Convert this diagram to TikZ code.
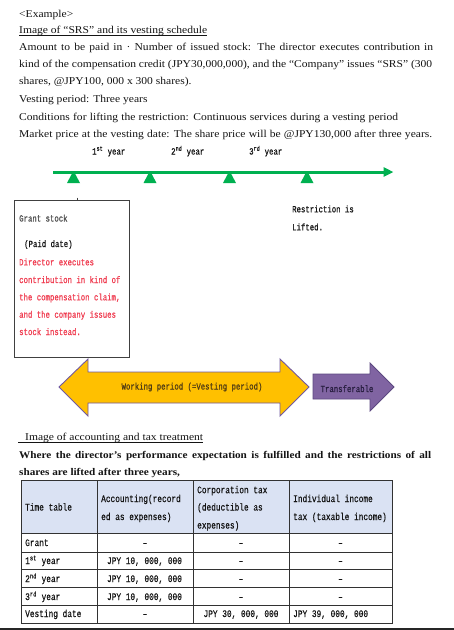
\documentclass[tikz,border=0pt]{standalone}
\usepackage{fontspec}
\setmainfont{Liberation Serif}[FakeStretch=1.1]
\newfontfamily\monof{Liberation Mono}[FakeStretch=0.78, FakeBold=0.6]
\usetikzlibrary{arrows.meta}
\definecolor{tlgreen}{RGB}{0,176,80}
\definecolor{boxred}{RGB}{240,60,80}
\definecolor{goldfill}{RGB}{255,192,0}
\definecolor{arrowline}{RGB}{112,88,160}
\definecolor{purpfill}{RGB}{128,100,162}
\definecolor{purpline}{RGB}{92,72,128}
\definecolor{hdrfill}{RGB}{218,226,243}
\definecolor{gridline}{RGB}{50,50,50}
\definecolor{txt}{RGB}{20,20,20}
\tikzset{
  body/.style={anchor=base west, inner sep=0pt, text=txt, font=\fontsize{10.5}{12}\selectfont},
  boldbody/.style={anchor=base west, inner sep=0pt, text=txt, font=\fontsize{10.2}{12}\selectfont\bfseries},
  mono/.style={anchor=base west, inner sep=0pt, text=txt, font=\monof\fontsize{9.4}{11}\selectfont},
  monoc/.style={anchor=base, inner sep=0pt, text=txt, font=\monof\fontsize{9.4}{11}\selectfont},
  tmono/.style={anchor=base west, inner sep=0pt, text=txt, font=\monof\fontsize{10}{12}\selectfont},
  tmonoc/.style={anchor=base, inner sep=0pt, text=txt, font=\monof\fontsize{10}{12}\selectfont},
  uline/.style={line width=0.5pt, txt},
  grid/.style={gridline, line width=0.8pt},
  tri/.style={fill=tlgreen},
}
\begin{document}
\begin{tikzpicture}[x=1pt, y=-1pt]
\useasboundingbox (0,0) rectangle (454,630);
\fill[white] (0,0) rectangle (454,630);

% --- top paragraph
\node[body] (l1) at (19,17) {<Example>};
\node[body] (l2) at (19,33) {Image of ``SRS'' and its vesting schedule};
\draw[uline] ([yshift=-1.8pt]l2.base west) -- ([yshift=-1.8pt]l2.base east);
\node[body] (l3) at (19,50.2) {\makebox[414pt][s]{Amount to be paid in · Number of issued stock: The director executes contribution in}};
\node[body] (l4) at (19,67.5) {\makebox[413pt][s]{kind of the compensation credit (JPY30,000,000), and the ``Company'' issues ``SRS'' (300}};
\node[body] (l5) at (19,84.8) {shares, @JPY100, 000 x 300 shares).};
\node[body] (l6) at (19,102.2) {Vesting period: Three years};
\node[body] (l7) at (19,120.2) {\makebox[379pt][s]{Conditions for lifting the restriction: Continuous services during a vesting period}};
\node[body] (l8) at (19,137.5) {\makebox[413pt][s]{Market price at the vesting date: The share price will be @JPY130,000 after three years.}};

% --- timeline
\node[mono] (y1) at (92,154.5) {1\textsuperscript{st} year};
\node[mono] (y2) at (171,154.5) {2\textsuperscript{nd} year};
\node[mono] (y3) at (249,154.5) {3\textsuperscript{rd} year};
\coordinate (tl0) at (53,172);
\coordinate (tl1) at (393.5,172);
\draw[tlgreen, line width=3pt, -{Triangle[length=10pt,width=9pt]}] (tl0) -- (tl1);
\foreach \x in {73.5,150,229.5,307}{
  \fill[tri] (\x-1.2,173) -- (\x+1.2,173) -- (\x+6.5,183) -- (\x-6.5,183) -- cycle;
}

% --- grant box
\node[draw=black!75, line width=0.7pt, minimum width=115pt, minimum height=157pt, inner sep=0pt] (gbox) at (71.5,278.5) {};
\draw[black!75, line width=0.6pt] (77,197.5) -- (77,200);
\node[mono, text=black!70] (g1) at (19,221.5) {Grant stock};
\node[mono] (g2) at (24,247) {(Paid date)};
\node[mono, text=boxred] (g3) at (19,265.3) {Director executes};
\node[mono, text=boxred] (g4) at (19,283) {contribution in kind of};
\node[mono, text=boxred] (g5) at (19,300.3) {the compensation claim,};
\node[mono, text=boxred] (g6) at (19,317.7) {and the company issues};
\node[mono, text=boxred] (g7) at (19,335) {stock instead.};

\node[mono] (r1) at (292,212.3) {Restriction is};
\node[mono] (r2) at (292,230.3) {Lifted.};

% --- arrows
\draw[fill=goldfill, draw=arrowline, line width=0.9pt]
  (59,387) -- (88,359) -- (88,372) -- (280,372) -- (280,359) -- (309,387)
  -- (280,416) -- (280,403) -- (88,403) -- (88,416) -- cycle;
\node[monoc, text={rgb,255:red,80;green,60;blue,20}] (wp) at (192,389.5) {Working period (=Vesting period)};
\draw[fill=purpfill, draw=purpline, line width=0.8pt]
  (313,374) -- (370,374) -- (370,363) -- (394,387) -- (370,411) -- (370,399) -- (313,399) -- cycle;
\node[monoc, text={rgb,255:red,40;green,30;blue,64}] (tf) at (347,392) {Transferable};

% --- second section
\node[body] (s1) at (25,440.5) {Image of accounting and tax treatment};
\coordinate (u0) at (18,442.3);
\draw[uline] (u0) -- ([yshift=-1.8pt]s1.base east);
\node[boldbody] (s2) at (19,458.5) {\makebox[412pt][s]{Where the director's performance expectation is fulfilled and the restrictions of all}};
\node[boldbody] (s3) at (19,475.5) {shares are lifted after three years,};

% --- table
\fill[hdrfill] (21,480) rectangle (392,533);
\draw[grid] (21,480) rectangle (392,623);
\foreach \x in {97,193,289}{ \draw[grid] (\x,480) -- (\x,623); }
\foreach \y in {533,552,569,587,605}{ \draw[grid] (21,\y) -- (392,\y); }

\node[tmono] (h1) at (25,510.5) {Time table};
\node[tmono] (h2a) at (101,502) {Accounting(record};
\node[tmono] (h2b) at (101,520) {ed as expenses)};
\node[tmono] (h3a) at (197,493.2) {Corporation tax};
\node[tmono] (h3b) at (197,510.5) {(deductible as};
\node[tmono] (h3c) at (197,528.5) {expenses)};
\node[tmono] (h4a) at (293,502) {Individual income};
\node[tmono] (h4b) at (293,520) {tax (taxable income)};

\node[tmono] (a1) at (25,546) {Grant};
\node[tmonoc] (a2) at (145,546) {–};
\node[tmonoc] (a3) at (241,546) {–};
\node[tmonoc] (a4) at (340.5,546) {–};

\node[tmono] (b1) at (25,564) {1\textsuperscript{st} year};
\node[tmonoc] (b2) at (144.5,564) {JPY 10, 000, 000};
\node[tmonoc] (b3) at (241,564) {–};
\node[tmonoc] (b4) at (340.5,564) {–};

\node[tmono] (c1) at (25,582) {2\textsuperscript{nd} year};
\node[tmonoc] (c2) at (144.5,582) {JPY 10, 000, 000};
\node[tmonoc] (c3) at (241,582) {–};
\node[tmonoc] (c4) at (340.5,582) {–};

\node[tmono] (d1) at (25,600) {3\textsuperscript{rd} year};
\node[tmonoc] (d2) at (144.5,600) {JPY 10, 000, 000};
\node[tmonoc] (d3) at (241,600) {–};
\node[tmonoc] (d4) at (340.5,600) {–};

\node[tmono] (e1) at (25,617) {Vesting date};
\node[tmonoc] (e2) at (145,617) {–};
\node[tmonoc] (e3) at (241,617) {JPY 30, 000, 000};
\node[tmono] (e4) at (293,617) {JPY 39, 000, 000};

% --- bottom bar
\fill[black!85] (0,627.5) rectangle (454,630);
\end{tikzpicture}
\end{document}
